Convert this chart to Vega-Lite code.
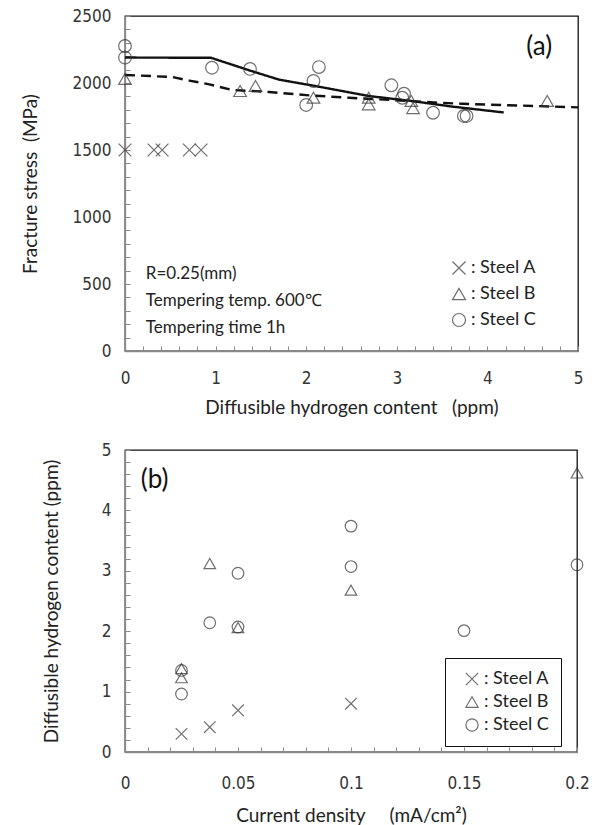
{
  "$schema": "https://vega.github.io/schema/vega-lite/v6.json",
  "background": "white",
  "padding": {"left": 20, "top": 6, "right": 12, "bottom": 5},
  "spacing": 22,
  "resolve": {"legend": {"shape": "independent"}, "scale": {"shape": "independent"}},
  "config": {
    "view": {"stroke": "#111", "strokeWidth": 1.3},
    "axis": {
      "grid": false,
      "domainColor": "#8a8a8a",
      "domainWidth": 1.3,
      "tickColor": "#8a8a8a",
      "tickWidth": 1,
      "tickSize": -5,
      "tickCount": 100,
      "labelFont": "Liberation Sans Narrow, DejaVu Sans Condensed, Liberation Sans",
      "labelFontSize": 17,
      "labelColor": "#333",
      "titleFont": "Lato",
      "titleFontSize": 19,
      "titleFontWeight": "normal",
      "titleColor": "#222",
      "labelOverlap": false,
      "labelFlush": false
    },
    "legend": {
      "title": null,
      "labelFont": "Lato",
      "labelFontSize": 18,
      "labelColor": "#222",
      "symbolStrokeColor": "#333",
      "symbolStrokeWidth": 1.2,
      "symbolFillColor": "transparent"
    }
  },
  "datasets": {
    "pa": [
      {"h": 0.0, "s": 1500, "steel": "Steel A"},
      {"h": 0.32, "s": 1500, "steel": "Steel A"},
      {"h": 0.41, "s": 1500, "steel": "Steel A"},
      {"h": 0.71, "s": 1500, "steel": "Steel A"},
      {"h": 0.84, "s": 1500, "steel": "Steel A"},
      {"h": 0.0, "s": 2030, "steel": "Steel B"},
      {"h": 1.27, "s": 1940, "steel": "Steel B"},
      {"h": 1.44, "s": 1978, "steel": "Steel B"},
      {"h": 2.08, "s": 1890, "steel": "Steel B"},
      {"h": 2.69, "s": 1890, "steel": "Steel B"},
      {"h": 2.69, "s": 1841, "steel": "Steel B"},
      {"h": 3.16, "s": 1866, "steel": "Steel B"},
      {"h": 3.18, "s": 1813, "steel": "Steel B"},
      {"h": 4.66, "s": 1866, "steel": "Steel B"},
      {"h": 0.0, "s": 2276, "steel": "Steel C"},
      {"h": 0.0, "s": 2189, "steel": "Steel C"},
      {"h": 0.96, "s": 2114, "steel": "Steel C"},
      {"h": 1.38, "s": 2105, "steel": "Steel C"},
      {"h": 2.14, "s": 2119, "steel": "Steel C"},
      {"h": 2.08, "s": 2015, "steel": "Steel C"},
      {"h": 2.0, "s": 1836, "steel": "Steel C"},
      {"h": 2.94, "s": 1983, "steel": "Steel C"},
      {"h": 3.08, "s": 1920, "steel": "Steel C"},
      {"h": 3.06, "s": 1890, "steel": "Steel C"},
      {"h": 3.40, "s": 1778, "steel": "Steel C"},
      {"h": 3.74, "s": 1754, "steel": "Steel C"},
      {"h": 3.77, "s": 1754, "steel": "Steel C"}
    ],
    "la": [
      {"h": 0.0, "s": 2190, "series": "solid"},
      {"h": 0.95, "s": 2188, "series": "solid"},
      {"h": 1.37, "s": 2095, "series": "solid"},
      {"h": 1.7, "s": 2025, "series": "solid"},
      {"h": 2.08, "s": 1980, "series": "solid"},
      {"h": 2.69, "s": 1903, "series": "solid"},
      {"h": 3.16, "s": 1866, "series": "solid"},
      {"h": 3.6, "s": 1825, "series": "solid"},
      {"h": 4.18, "s": 1780, "series": "solid"},
      {"h": 0.0, "s": 2060, "series": "dashed"},
      {"h": 0.52, "s": 2045, "series": "dashed"},
      {"h": 0.71, "s": 2018, "series": "dashed"},
      {"h": 0.93, "s": 1990, "series": "dashed"},
      {"h": 1.18, "s": 1948, "series": "dashed"},
      {"h": 1.59, "s": 1933, "series": "dashed"},
      {"h": 2.03, "s": 1908, "series": "dashed"},
      {"h": 2.47, "s": 1890, "series": "dashed"},
      {"h": 2.99, "s": 1871, "series": "dashed"},
      {"h": 3.47, "s": 1853, "series": "dashed"},
      {"h": 3.72, "s": 1845, "series": "dashed"},
      {"h": 5.0, "s": 1818, "series": "dashed"}
    ],
    "na": [
      {"h": 0.23, "s": 575, "label": "R=0.25(mm)"},
      {"h": 0.23, "s": 373, "label": "Tempering temp. 600℃"},
      {"h": 0.23, "s": 172, "label": "Tempering time 1h"}
    ],
    "pb": [
      {"c": 0.025, "h": 0.30, "steel": "Steel A"},
      {"c": 0.0375, "h": 0.41, "steel": "Steel A"},
      {"c": 0.05, "h": 0.69, "steel": "Steel A"},
      {"c": 0.1, "h": 0.80, "steel": "Steel A"},
      {"c": 0.025, "h": 1.38, "steel": "Steel B"},
      {"c": 0.025, "h": 1.23, "steel": "Steel B"},
      {"c": 0.0375, "h": 3.12, "steel": "Steel B"},
      {"c": 0.05, "h": 2.06, "steel": "Steel B"},
      {"c": 0.1, "h": 2.68, "steel": "Steel B"},
      {"c": 0.2, "h": 4.62, "steel": "Steel B"},
      {"c": 0.025, "h": 1.35, "steel": "Steel C"},
      {"c": 0.025, "h": 0.96, "steel": "Steel C"},
      {"c": 0.0375, "h": 2.14, "steel": "Steel C"},
      {"c": 0.05, "h": 2.96, "steel": "Steel C"},
      {"c": 0.05, "h": 2.07, "steel": "Steel C"},
      {"c": 0.1, "h": 3.74, "steel": "Steel C"},
      {"c": 0.1, "h": 3.07, "steel": "Steel C"},
      {"c": 0.15, "h": 2.01, "steel": "Steel C"},
      {"c": 0.2, "h": 3.10, "steel": "Steel C"}
    ]
  },
  "vconcat": [
    {
      "width": 453,
      "height": 335,
      "layer": [
        {
          "data": {"name": "la"},
          "mark": {"type": "line", "color": "#111", "strokeWidth": 2.4},
          "encoding": {
            "x": {
              "field": "h", "type": "quantitative",
              "scale": {"domain": [0, 5], "nice": false},
              "axis": {
                "values": [0, 0.2, 0.4, 0.6, 0.8, 1, 1.2, 1.4, 1.6, 1.8, 2, 2.2, 2.4, 2.6, 2.8, 3, 3.2, 3.4, 3.6, 3.8, 4, 4.2, 4.4, 4.6, 4.8, 5],
                "tickCount": 100,
                "labelExpr": "datum.value % 1 === 0 ? format(datum.value, 'd') : ''",
                "labelOverlap": false,
                "labelPadding": 24,
                "title": "Diffusible hydrogen content\u00a0\u00a0\u00a0(ppm)",
                "titlePadding": 12
              }
            },
            "y": {
              "field": "s", "type": "quantitative",
              "scale": {"domain": [0, 2500], "nice": false},
              "axis": {
                "values": [0, 100, 200, 300, 400, 500, 600, 700, 800, 900, 1000, 1100, 1200, 1300, 1400, 1500, 1600, 1700, 1800, 1900, 2000, 2100, 2200, 2300, 2400, 2500],
                "tickCount": 100,
                "labelExpr": "datum.value % 500 === 0 ? format(datum.value, 'd') : ''",
                "labelOverlap": false,
                "labelPadding": 19,
                "title": "Fracture stress\u00a0\u00a0(MPa)",
                "titlePadding": 32
              }
            },
            "strokeDash": {
              "field": "series", "type": "nominal",
              "scale": {"domain": ["solid", "dashed"], "range": [[1, 0], [10, 6]]},
              "legend": null
            }
          }
        },
        {
          "data": {"name": "pa"},
          "mark": {"type": "point", "filled": false, "strokeWidth": 1.2, "color": "#333"},
          "encoding": {
            "x": {"field": "h", "type": "quantitative"},
            "y": {"field": "s", "type": "quantitative"},
            "shape": {
              "field": "steel", "type": "nominal",
              "scale": {"domain": ["Steel A", "Steel B", "Steel C"], "range": ["M-1,-1L1,1M1,-1L-1,1", "triangle-up", "circle"]},
              "legend": {
                "orient": "none", "legendX": 325, "legendY": 243,
                "labelExpr": "': ' + datum.label",
                "symbolSize": 170, "rowPadding": 8, "padding": 0, "labelOffset": 3
              }
            },
            "size": {"value": 160}
          }
        },
        {
          "data": {"name": "na"},
          "mark": {"type": "text", "align": "left", "baseline": "middle", "font": "Lato", "fontSize": 17, "color": "#222"},
          "encoding": {
            "x": {"field": "h", "type": "quantitative"},
            "y": {"field": "s", "type": "quantitative"},
            "text": {"field": "label"}
          }
        },
        {
          "data": {"values": [{"h": 4.43, "s": 2270, "label": "(a)"}]},
          "mark": {"type": "text", "align": "left", "baseline": "middle", "font": "Lato", "fontSize": 26, "color": "#111"},
          "encoding": {
            "x": {"field": "h", "type": "quantitative"},
            "y": {"field": "s", "type": "quantitative"},
            "text": {"field": "label"}
          }
        }
      ]
    },
    {
      "width": 452,
      "height": 302,
      "layer": [
        {
          "data": {"name": "pb"},
          "mark": {"type": "point", "filled": false, "strokeWidth": 1.2, "color": "#333"},
          "encoding": {
            "x": {
              "field": "c", "type": "quantitative",
              "scale": {"domain": [0, 0.2], "nice": false},
              "axis": {
                "values": [0, 0.01, 0.02, 0.03, 0.04, 0.05, 0.06, 0.07, 0.08, 0.09, 0.1, 0.11, 0.12, 0.13, 0.14, 0.15, 0.16, 0.17, 0.18, 0.19, 0.2],
                "tickCount": 100,
                "labelExpr": "round(datum.value * 100) % 5 === 0 ? format(datum.value, '~g') : ''",
                "labelOverlap": false,
                "labelPadding": 28,
                "title": "Current density\u00a0\u00a0\u00a0\u00a0\u00a0(mA/cm²)",
                "titlePadding": 15
              }
            },
            "y": {
              "field": "h", "type": "quantitative",
              "scale": {"domain": [0, 5], "nice": false},
              "axis": {
                "values": [0, 0.2, 0.4, 0.6, 0.8, 1, 1.2, 1.4, 1.6, 1.8, 2, 2.2, 2.4, 2.6, 2.8, 3, 3.2, 3.4, 3.6, 3.8, 4, 4.2, 4.4, 4.6, 4.8, 5],
                "tickCount": 100,
                "labelExpr": "round(datum.value * 10) % 10 === 0 ? format(datum.value, 'd') : ''",
                "labelOverlap": false,
                "labelPadding": 19,
                "title": "Diffusible hydrogen content (ppm)",
                "titlePadding": 40
              }
            },
            "shape": {
              "field": "steel", "type": "nominal",
              "scale": {"domain": ["Steel A", "Steel B", "Steel C"], "range": ["M-1,-1L1,1M1,-1L-1,1", "triangle-up", "circle"]},
              "legend": {
                "orient": "none", "legendX": 320, "legendY": 208,
                "labelExpr": "': ' + datum.label + '\u00a0\u00a0\u00a0\u00a0\u00a0\u00a0\u00a0'",
                "symbolSize": 150, "rowPadding": 5, "padding": 12, "symbolOffset": 6,
                "strokeColor": "#111", "fillColor": "white", "labelOffset": 3
              }
            },
            "size": {"value": 135}
          }
        },
        {
          "data": {"values": [{"c": 0.007, "h": 4.5, "label": "(b)"}]},
          "mark": {"type": "text", "align": "left", "baseline": "middle", "font": "Lato", "fontSize": 26, "color": "#111"},
          "encoding": {
            "x": {"field": "c", "type": "quantitative"},
            "y": {"field": "h", "type": "quantitative"},
            "text": {"field": "label"}
          }
        }
      ]
    }
  ]
}
